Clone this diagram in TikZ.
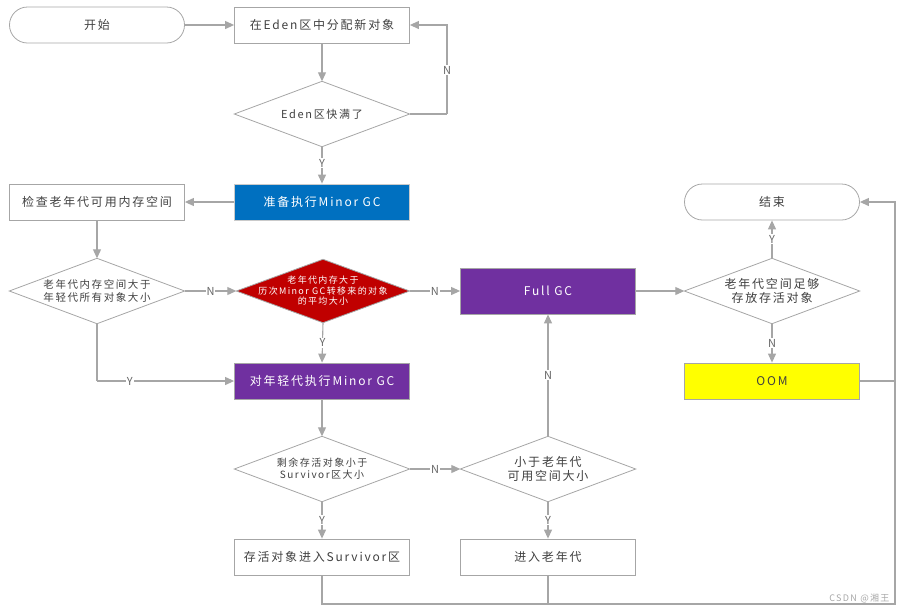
\documentclass[tikz,border=0pt]{standalone}
\usepackage{fontspec}
\setmainfont[LetterSpace=15]{Noto Sans CJK SC}
\usetikzlibrary{arrows.meta,backgrounds}
\definecolor{lncol}{HTML}{A6A6A6}
\definecolor{txcol}{HTML}{404040}
\definecolor{blueA}{HTML}{0070C0}
\definecolor{purpA}{HTML}{7030A0}
\definecolor{redA}{HTML}{C00000}
\definecolor{yelA}{HTML}{FFFF00}
\tikzset{
  box/.style={draw=lncol, line width=0.8pt, minimum width=175pt, minimum height=36pt,
    inner sep=0pt, text=txcol, font=\fontsize{12}{14}\selectfont, align=center},
  pill/.style={box, rounded corners=18pt},
  diaspot/.style={minimum width=175pt, minimum height=65pt, inner sep=0pt, text=txcol,
    align=center, font=\fontsize{11}{13}\selectfont},
  conn/.style={draw=lncol, line width=1.1pt, -{Triangle[length=9pt,width=8pt]}},
  plain/.style={draw=lncol, line width=1.1pt},
  lbl/.style={fill=white, inner sep=1pt, text=txcol!80, font=\fontsize{11}{12}\selectfont},
}
\begin{document}
\begin{tikzpicture}[x=1pt,y=-1pt]
\useasboundingbox (0,0) rectangle (908,614);
% boxes
\node[pill] (start) at (97,25) {开始};
\node[box] (alloc) at (322,25) {在Eden区中分配新对象};
\node[box, fill=blueA, text=white, draw=lncol!60] (prep) at (322,202) {准备执行Minor GC};
\node[box] (check) at (97,202) {检查老年代可用内存空间};
\node[box, fill=purpA, text=white, minimum height=46pt] (full) at (548,291) {Full GC};
\node[box, fill=purpA, text=white] (young) at (322,381) {对年轻代执行Minor GC};
\node[box] (surv) at (322,557) {存活对象进入Survivor区};
\node[box] (old) at (548,557) {进入老年代};
\node[pill] (end) at (772,202) {结束};
\node[box, fill=yelA] (oom) at (772,381) {OOM};
% diamonds (text holders)
\node[diaspot] (d1) at (322,114) {Eden区快满了};
\node[diaspot, font=\fontsize{10.5}{12.5}\selectfont] (d2) at (97,291) {老年代内存空间大于\\年轻代所有对象大小};
\node[diaspot, minimum width=173pt, minimum height=63pt, text=white, font=\fontsize{9}{10.5}\selectfont] (red) at (323,291) {老年代内存大于\\历次Minor GC转移来的对象\\的平均大小};
\node[diaspot, font=\fontsize{10}{12}\selectfont] (d3) at (322,469) {剩余存活对象小于\\Survivor区大小};
\node[diaspot, font=\fontsize{12}{14}\selectfont] (d4) at (548,469) {小于老年代\\可用空间大小};
\node[diaspot, font=\fontsize{12}{14}\selectfont] (d5) at (772,291) {老年代空间足够\\存放存活对象};
\begin{scope}[on background layer]
\foreach \n/\c in {d1/white,d2/white,red/redA,d3/white,d4/white,d5/white}
  \draw[draw=lncol, line width=0.8pt, fill=\c] (\n.north) -- (\n.east) -- (\n.south) -- (\n.west) -- cycle;
\end{scope}
% connectors
\coordinate (nloop) at (447,114);
\coordinate (br) at (895,604);
\coordinate (yd2) at (97,381);
\draw[conn] (start.east) -- (alloc.west);
\draw[conn] (alloc.south) -- (d1.north);
\draw[plain] (d1.east) -- (nloop);
\draw[conn] (nloop) |- (alloc.east);
\node[lbl] at (447,70) {N};
\draw[conn] (d1.south) -- node[lbl, pos=0.45] {Y} (prep.north);
\draw[conn] (prep.west) -- (check.east);
\draw[conn] (check.south) -- (d2.north);
\draw[conn] (d2.east) -- node[lbl] {N} (red.west);
\draw[conn] (red.east) -- node[lbl] {N} (full.west);
\draw[conn] (red.south) -- node[lbl] {Y} (young.north);
\draw[plain] (d2.south) -- (yd2);
\draw[conn] (yd2) -- node[lbl, pos=0.24] {Y} (young.west);
\draw[conn] (young.south) -- (d3.north);
\draw[conn] (d3.east) -- node[lbl] {N} (d4.west);
\draw[conn] (d4.north) -- node[lbl] {N} (full.south);
\draw[conn] (d3.south) -- node[lbl] {Y} (surv.north);
\draw[conn] (d4.south) -- node[lbl] {Y} (old.north);
\draw[conn] (full.east) -- (d5.west);
\draw[conn] (d5.north) -- node[lbl] {Y} (end.south);
\draw[conn] (d5.south) -- node[lbl] {N} (oom.north);
\draw[plain] (oom.east) -- (oom.east -| br);
\draw[conn] (surv.south) |- (br) |- (end.east);
\draw[plain] (old.south) -- (old.south |- br);
\node[text=gray!70, font=\fontsize{9}{10}\selectfont, anchor=east] (mark) at (893,598) {CSDN @湘王};
\end{tikzpicture}
\end{document}
